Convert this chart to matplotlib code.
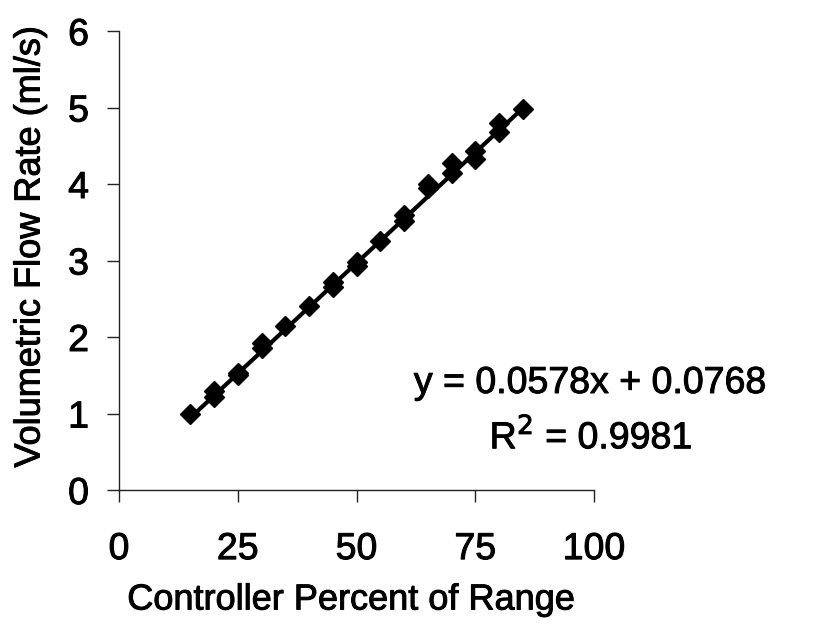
import numpy as np
import matplotlib
matplotlib.use("Agg")
import matplotlib.pyplot as plt
import matplotlib.patheffects as pe

plt.rcParams['font.family'] = ['Liberation Sans', 'DejaVu Sans']

# Data
percent = [15, 20, 20, 25, 25, 30, 30, 35, 40, 45, 45, 50, 50, 55,
           60, 60, 65, 65, 70, 70, 75, 75, 80, 80, 85]
flow = [1.00, 1.22, 1.30, 1.50, 1.53, 1.85, 1.92, 2.15, 2.40, 2.66, 2.72,
        2.93, 2.98, 3.25, 3.52, 3.60, 3.95, 4.00, 4.15, 4.28, 4.33, 4.43,
        4.68, 4.80, 4.98]
x_ticks = [0, 25, 50, 75, 100]
y_ticks = [0, 1, 2, 3, 4, 5, 6]
equation = "y = 0.0578x + 0.0768"
r2_text = "R$^2$ = 0.9981"
slope, intercept = 0.0578, 0.0768

bold_fx = [pe.withStroke(linewidth=0.7, foreground='black')]

fig = plt.figure(figsize=(8.16, 6.28), dpi=100)
ax = fig.add_axes([119/816, 1-490/628, (594-119)/816, (490-31)/628])

xs = np.array([min(percent), max(percent)])
ax.plot(xs, slope*xs + intercept, color='black', lw=3.0, zorder=2)
ax.plot(percent, flow, linestyle='none', marker='D', markersize=10,
        color='black', zorder=3)

ax.set_xlim(0, 100)
ax.set_ylim(0, 6)
ax.set_xticks(x_ticks)
ax.set_yticks(y_ticks)
for s in ['top', 'right']:
    ax.spines[s].set_visible(False)
for s in ['left', 'bottom']:
    ax.spines[s].set_linewidth(1.0)
    ax.spines[s].set_color('#222222')
ax.tick_params(axis='both', direction='out', length=8.6, width=1.0,
               color='#222222', labelsize=27)
ax.tick_params(axis='y', pad=13)
ax.tick_params(axis='x', pad=21)
for lab in ax.get_xticklabels() + ax.get_yticklabels():
    lab.set_path_effects(bold_fx)

xl = ax.set_xlabel("Controller Percent of Range", fontsize=26)
yl = ax.set_ylabel("Volumetric Flow Rate (ml/s)", fontsize=26)
xl.set_path_effects(bold_fx)
yl.set_path_effects(bold_fx)
ax.xaxis.set_label_coords((351-119)/475, (490-600)/459)
ax.yaxis.set_label_coords((30-119)/475, (490-247)/459)
ax.xaxis.label.set_va('center')
ax.yaxis.label.set_va('center')

t1 = ax.text((590-119)/475, (490-383)/459, equation, fontsize=27,
             ha='center', va='center', transform=ax.transAxes)
t2 = ax.text((591-119)/475, (490-437)/459, r2_text, fontsize=27,
             ha='center', va='center', transform=ax.transAxes)
t1.set_path_effects(bold_fx)
t2.set_path_effects(bold_fx)

fig.savefig("out.png", dpi=100)
